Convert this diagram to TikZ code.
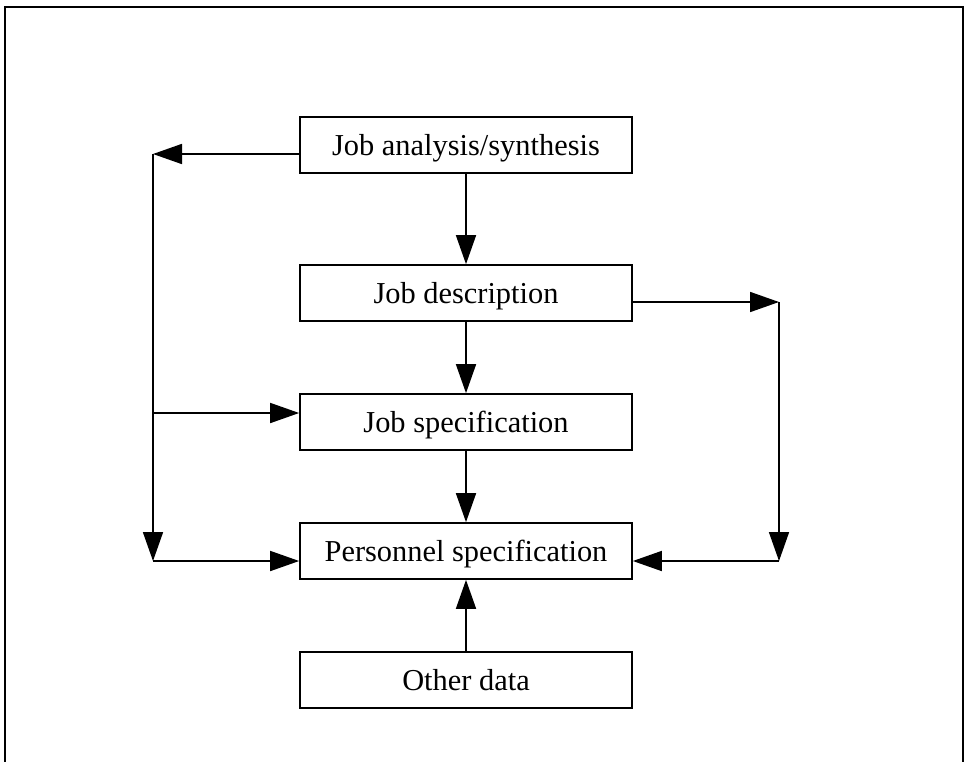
\documentclass[tikz,border=0pt]{standalone}
\usepackage{fontspec}
\setmainfont{Liberation Serif}
\usetikzlibrary{arrows.meta}
\begin{document}
\begin{tikzpicture}[x=1pt,y=-1pt,
  box/.style={draw, line width=1.7pt, minimum width=332pt, minimum height=56pt,
    inner sep=0pt, text height=21pt, text depth=0pt,
    font=\fontsize{30.4}{36}\selectfont},
  conn/.style={line width=1.7pt, -{Triangle[length=29pt,width=20pt]}}]
\useasboundingbox (0,0) rectangle (965,761);
% open frame around the chart
\draw[line width=2pt] (5,770) -- (5,7) -- (963,7) -- (963,770);

% boxes of the chart
\node[box] (ana) at (466,145) {Job analysis/synthesis};
\node[box] (desc) at (466,293) {Job description};
\node[box] (spec) at (466,422) {Job specification};
\node[box] (pers) at (466,551) {Personnel specification};
\node[box] (other) at (466,680) {Other data};

% turning points of the side loops
\coordinate (L1) at (153,154);
\coordinate (L3) at (153,413);
\coordinate (L2) at (153,561);
\coordinate (R1) at (779,302);
\coordinate (R2) at (779,561);

% main column
\draw[conn] (ana) -- (desc);
\draw[conn] (desc) -- (spec);
\draw[conn] (spec) -- (pers);
\draw[conn] (other) -- (pers);

% left loop
\draw[conn] ([yshift=-9pt]ana.west) -- (L1);
\draw[conn] (L1) -- (L2);
\draw[conn] (L2) -- ([yshift=-10pt]pers.west);
\draw[conn] (L3) -- ([yshift=9pt]spec.west);

% right loop
\draw[conn] ([yshift=-9pt]desc.east) -- (R1);
\draw[conn] (R1) -- (R2);
\draw[conn] (R2) -- ([yshift=-10pt]pers.east);
\end{tikzpicture}
\end{document}
